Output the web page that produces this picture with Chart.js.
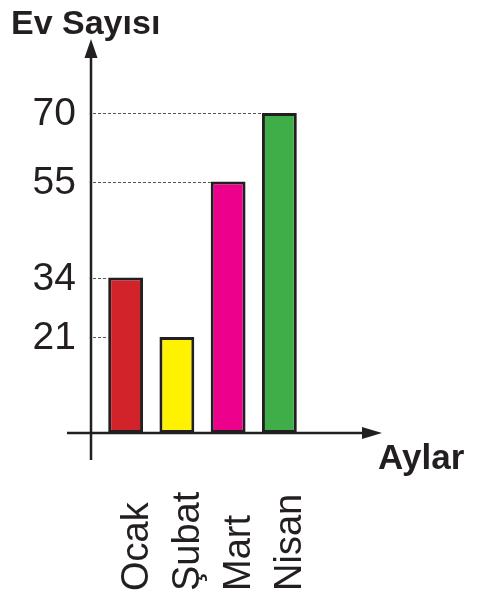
<!DOCTYPE html>
<html lang="tr">
<head>
<meta charset="utf-8">
<script src="https://cdn.jsdelivr.net/npm/chart.js@4"></script>
<style>
  html, body { margin: 0; padding: 0; background: #fff; }
  canvas { display: block; }
</style>
</head>
<body>
<canvas id="chart" width="477" height="598"></canvas>
<script>
const months = ['Ocak', 'Şubat', 'Mart', 'Nisan'];
const houses = [34, 21, 55, 70];
const yTicks = [21, 34, 55, 70];
const barColors = ['#d2232a', '#fff200', '#ec008c', '#3fae49'];
const ink = '#231f20';
const fam = '"Liberation Sans", Arial, sans-serif';

// axes, arrows, dashed guides and all text are drawn here from the chart's scales
const schoolAxes = {
    id: 'schoolAxes',
    beforeDatasetsDraw(chart) {
        const { ctx, scales: { y } } = chart;
        ctx.save();
        ctx.strokeStyle = '#555';
        ctx.lineWidth = 1;
        ctx.setLineDash([3, 2]);
        yTicks.forEach(t => {
            const py = Math.round(y.getPixelForValue(t)) + 0.5;
            // guide runs to the first bar that reaches this value
            const idx = houses.findIndex(v => v >= t);
            const bar = chart.getDatasetMeta(0).data[idx];
            ctx.beginPath();
            ctx.moveTo(93, py);
            ctx.lineTo(bar.x - bar.width / 2, py);
            ctx.stroke();
        });
        ctx.restore();
    },
    afterDatasetsDraw(chart) {
        const { ctx, scales: { y } } = chart;
        const axisX = 91;
        const axisY = y.getPixelForValue(0);
        ctx.save();
        ctx.strokeStyle = ink;
        ctx.fillStyle = ink;
        ctx.lineWidth = 2.5;
        // y axis
        ctx.beginPath();
        ctx.moveTo(axisX, 460);
        ctx.lineTo(axisX, 55);
        ctx.stroke();
        ctx.beginPath();
        ctx.moveTo(axisX, 39);
        ctx.lineTo(axisX - 6.5, 58);
        ctx.lineTo(axisX + 6.5, 58);
        ctx.closePath();
        ctx.fill();
        // x axis
        ctx.beginPath();
        ctx.moveTo(67, axisY);
        ctx.lineTo(366, axisY);
        ctx.stroke();
        ctx.beginPath();
        ctx.moveTo(382, axisY);
        ctx.lineTo(362, axisY - 6);
        ctx.lineTo(362, axisY + 6);
        ctx.closePath();
        ctx.fill();
        ctx.restore();
    },
    afterDraw(chart) {
        const { ctx, scales: { x, y } } = chart;
        ctx.save();
        ctx.fillStyle = ink;
        ctx.textAlign = 'left';
        ctx.textBaseline = 'alphabetic';

        // tick labels: digit-only runs fell back to a serif face here,
        // so a trailing letter keeps the run in Liberation Sans and is clipped off
        ctx.font = '39px ' + fam;
        yTicks.forEach(t => {
            const s = String(t);
            const w = ctx.measureText(s).width;
            const py = y.getPixelForValue(t);
            ctx.save();
            ctx.beginPath();
            ctx.rect(0, py - 40, 77, 70);
            ctx.clip();
            ctx.fillText(s + 'I', 76 - w, py + 12);
            ctx.restore();
        });

        // axis titles
        ctx.font = 'bold 34px ' + fam;
        ctx.fillText('Ev Sayısı', 11, 34);
        ctx.font = 'bold 35px ' + fam;
        ctx.fillText('Aylar', 378, 469);

        // month labels, rotated, starting at the bottom
        ctx.font = '38px ' + fam;
        months.forEach((m, i) => {
            const px = x.getPixelForValue(i);
            ctx.save();
            ctx.translate(px + 22, 591);
            ctx.rotate(-Math.PI / 2);
            ctx.fillText(m, 0, 0);
            ctx.restore();
        });
        ctx.restore();
    }
};

new Chart(document.getElementById('chart'), {
    type: 'bar',
    data: {
        labels: months,
        datasets: [{
            data: houses,
            backgroundColor: barColors,
            borderColor: ink,
            borderWidth: 3,
            borderSkipped: false,
            categoryPercentage: 1,
            barPercentage: 0.68
        }]
    },
    options: {
        responsive: false,
        animation: false,
        layout: {
            padding: { left: 100, right: 172, top: 113, bottom: 165 }
        },
        plugins: {
            legend: { display: false },
            tooltip: { enabled: false }
        },
        scales: {
            x: { display: false, offset: true },
            y: { display: false, min: 0, max: 70 }
        }
    },
    plugins: [schoolAxes]
});
</script>
</body>
</html>
